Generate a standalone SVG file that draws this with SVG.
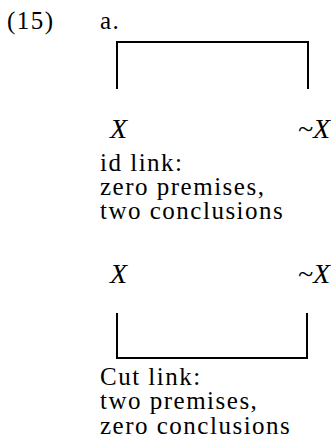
<svg xmlns="http://www.w3.org/2000/svg" width="331" height="446" viewBox="0 0 331 446">
<style>
text{font-family:"Liberation Serif","Times New Roman",serif;font-size:25px;letter-spacing:1.5px;fill:#000}
.v{font-style:italic;font-size:28px;letter-spacing:0}
.b{fill:none;stroke:#000;stroke-width:2}
</style>
<rect width="331" height="446" fill="#fff"/>
<text x="7" y="29">(15)</text>
<text x="100" y="29">a.</text>
<g id="id-link">
<text class="v" x="110" y="138">X</text>
<text class="v" x="330" y="138" text-anchor="end">~X</text>
<text x="100" y="171">id link:</text>
<text x="100" y="195">zero premises,</text>
<text x="100" y="219">two conclusions</text>
</g>
<g id="cut-link">
<text class="v" x="110" y="283">X</text>
<text class="v" x="330" y="283" text-anchor="end">~X</text>
<text x="100" y="385">Cut link:</text>
<text x="100" y="409">two premises,</text>
<text x="100" y="434">zero conclusions</text>
</g>
<g id="connectors">
<path class="b" d="M117,89 V42 H308 V89"/>
<path class="b" d="M117,313 V358 H307 V313"/>
</g>
</svg>
